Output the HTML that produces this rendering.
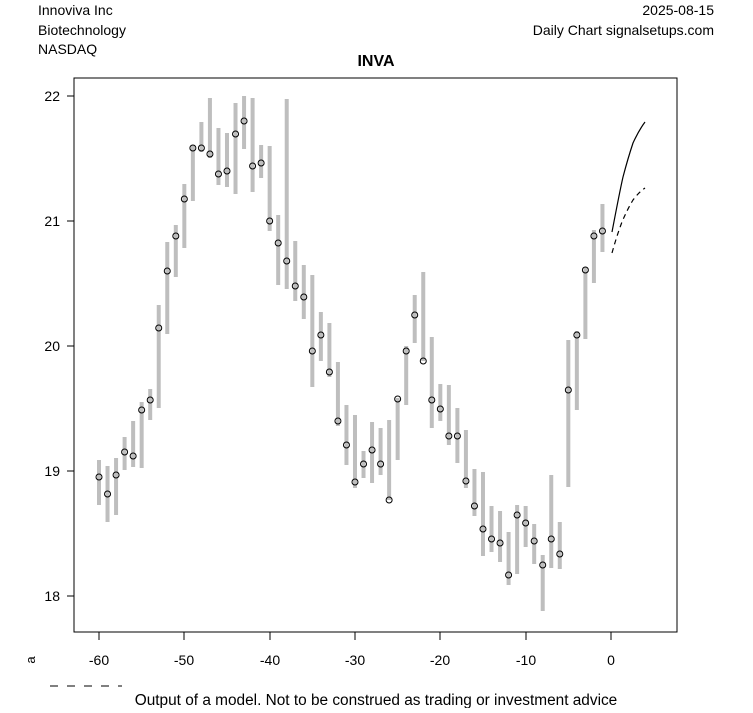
<!DOCTYPE html>
<html><head><style>body{margin:0;background:#fff}</style></head><body>
<svg width="753" height="708" xmlns="http://www.w3.org/2000/svg" font-family="Liberation Sans, Arial, sans-serif">
<rect width="753" height="708" fill="#fff"/>
<text x="38" y="15" font-size="14">Innoviva Inc</text>
<text x="38" y="35" font-size="14">Biotechnology</text>
<text x="38" y="54" font-size="14">NASDAQ</text>
<text x="714" y="15" font-size="14" text-anchor="end">2025-08-15</text>
<text x="714" y="35" font-size="14" text-anchor="end">Daily Chart signalsetups.com</text>
<text x="376" y="66" font-size="16" font-weight="bold" text-anchor="middle">INVA</text>
<rect x="74" y="78" width="603" height="554" fill="none" stroke="#000"/>
<g font-size="14" text-anchor="end">
<line x1="74" x2="67" y1="96" y2="96" stroke="#000"/><text x="60" y="101">22</text>
<line x1="74" x2="67" y1="221" y2="221" stroke="#000"/><text x="60" y="226">21</text>
<line x1="74" x2="67" y1="346" y2="346" stroke="#000"/><text x="60" y="351">20</text>
<line x1="74" x2="67" y1="471" y2="471" stroke="#000"/><text x="60" y="476">19</text>
<line x1="74" x2="67" y1="596" y2="596" stroke="#000"/><text x="60" y="601">18</text>
</g>
<g font-size="14" text-anchor="middle" stroke="#000">
<line x1="99" x2="99" y1="632" y2="640"/><line x1="184" x2="184" y1="632" y2="640"/><line x1="270" x2="270" y1="632" y2="640"/><line x1="355" x2="355" y1="632" y2="640"/><line x1="440" x2="440" y1="632" y2="640"/><line x1="526" x2="526" y1="632" y2="640"/><line x1="611" x2="611" y1="632" y2="640"/>
</g>
<g font-size="14" text-anchor="middle">
<text x="99" y="665">-60</text><text x="184" y="665">-50</text><text x="270" y="665">-40</text><text x="355" y="665">-30</text><text x="440" y="665">-20</text><text x="526" y="665">-10</text><text x="611" y="665">0</text>
</g>
<text x="0" y="0" font-size="13" transform="translate(35,660) rotate(-90)" text-anchor="middle">a</text>
<line x1="50" x2="122" y1="686" y2="686" stroke="#000" stroke-dasharray="8,9"/>
<text x="376" y="705" font-size="15.4" text-anchor="middle">Output of a model. Not to be construed as trading or investment advice</text>
<g id="bars" stroke="#bebebe" stroke-width="4"></g>
<g id="pts" fill="none" stroke="#000" stroke-width="1"></g>
<path d="M612,232 Q620,190 623,177 Q628,158 633,143 Q639,130 645,122" fill="none" stroke="#000" stroke-width="1.2"/>
<path d="M612,253 Q617,235 622,222 Q627,210 633,200 Q639,192 645,188" fill="none" stroke="#000" stroke-width="1.2" stroke-dasharray="5,4"/>
<script>
var d=[[460,505,477],[466,522,494],[458,515,475],[437,470,452],[421,467,456],[402,468,410],[389,420,400],[305,408,328],[242,334,271],[225,277,236],[184,248,199],[145,201,148],[122,152,148],[98,158,154],[128,185,174],[133,187,171],[103,194,134],[96,149,121],[98,192,166],[145,178,163],[146,231,221],[215,285,243],[99,289,261],[241,301,286],[265,319,297],[275,387,351],[312,361,335],[323,377,372],[362,426,421],[405,465,445],[415,488,482],[451,478,464],[422,483,450],[428,475,464],[420,500,500],[398,460,399],[346,405,351],[295,343,315],[272,361,361],[337,428,400],[384,421,409],[385,445,436],[408,463,436],[430,488,481],[469,516,506],[472,556,529],[506,552,539],[511,562,543],[532,585,575],[505,574,515],[506,547,523],[524,564,541],[555,611,565],[475,568,539],[522,569,554],[340,487,390],[331,410,335],[267,339,270],[230,283,236],[204,252,231]];
var b=document.getElementById('bars'),p=document.getElementById('pts'),ns='http://www.w3.org/2000/svg';
d.forEach(function(r,i){var x=99+i*8.533;
var l=document.createElementNS(ns,'line');l.setAttribute('x1',x);l.setAttribute('x2',x);l.setAttribute('y1',r[0]);l.setAttribute('y2',r[1]);b.appendChild(l);
var c=document.createElementNS(ns,'circle');c.setAttribute('cx',x);c.setAttribute('cy',r[2]);c.setAttribute('r',3);p.appendChild(c);});
</script>
</svg>
</body></html>
